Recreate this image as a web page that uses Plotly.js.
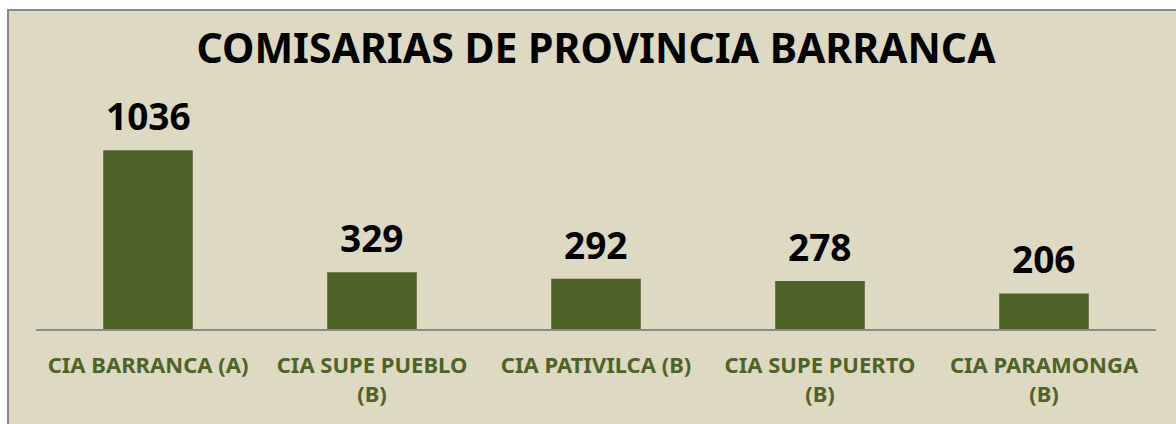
<!DOCTYPE html>
<html>
<head>
<meta charset="utf-8">
<script src="https://cdn.plot.ly/plotly-3.0.1.min.js"></script>
<style>
  html, body { margin: 0; padding: 0; background: #ffffff; }
  #frame { position: absolute; left: 7px; top: 9px; width: 1180px; height: 430px;
           background: #DDD9C3; border: 2px solid #878787; box-sizing: border-box; }
  #chart { position: absolute; left: 0; top: 0; width: 1176px; height: 424px; }
</style>
</head>
<body>
<div id="frame"></div>
<div id="chart"></div>
<script>
const categories = ["CIA BARRANCA (A)", "CIA SUPE PUEBLO<br>(B)", "CIA PATIVILCA (B)", "CIA SUPE PUERTO<br>(B)", "CIA PARAMONGA<br>(B)"];
const values = [1036, 329, 292, 278, 206];
const chartTitle = "COMISARIAS DE PROVINCIA BARRANCA";

const FONT = "Noto Sans, Open Sans, sans-serif";

const trace = {
  type: "bar",
  x: categories,
  y: values,
  marker: { color: "#4F6228" },
  hoverinfo: "none"
};

const annotations = categories.map((c, i) => ({
  x: c, y: values[i], xref: "x", yref: "y",
  text: String(values[i]), showarrow: false,
  yanchor: "bottom", yshift: 7,
  font: { family: FONT, size: 37, color: "#000000", weight: "bold" }
}));

const layout = {
  width: 1176, height: 424,
  paper_bgcolor: "rgba(0,0,0,0)",
  plot_bgcolor: "rgba(0,0,0,0)",
  margin: { l: 36, r: 20, t: 122, b: 95 },
  bargap: 0.6,
  showlegend: false,
  title: { text: "<b>" + chartTitle + "</b>", xref: "paper", x: 0.5, xanchor: "center", y: 0.885, yanchor: "middle",
           font: { family: FONT, size: 41, color: "#000000" } },
  xaxis: {
    type: "category",
    showline: true, linecolor: "#8c8c8c", linewidth: 2,
    ticks: "outside", ticklen: 16, tickcolor: "rgba(0,0,0,0)",
    tickfont: { family: FONT, size: 22, color: "#4F6228", weight: "bold" },
    showgrid: false, zeroline: false, fixedrange: true
  },
  yaxis: {
    range: [0, 1200], visible: false, showgrid: false, zeroline: false, fixedrange: true
  },
  annotations: annotations
};

Plotly.newPlot("chart", [trace], layout, { displayModeBar: false, staticPlot: true });
</script>
</body>
</html>
